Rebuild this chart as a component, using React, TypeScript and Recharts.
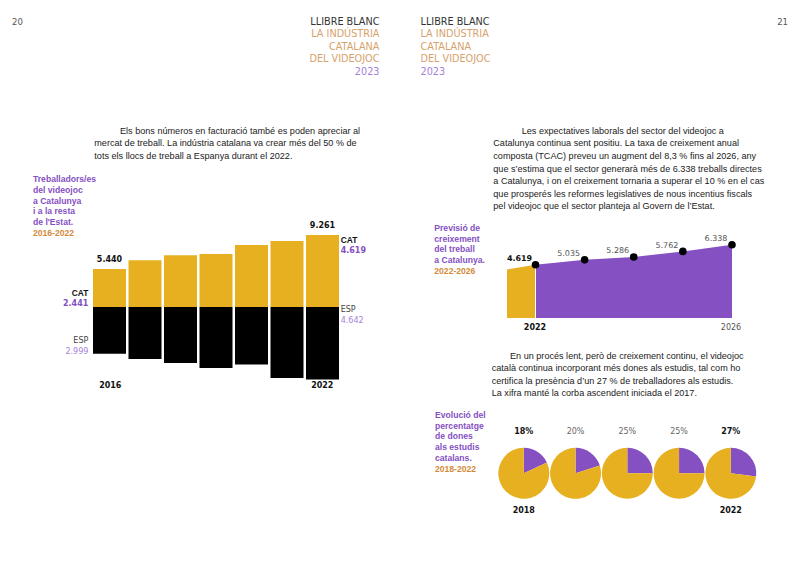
import React from "react";
import {
  BarChart,
  Bar,
  XAxis,
  YAxis,
  AreaChart,
  Area,
  LabelList,
  ReferenceLine,
  PieChart,
  Pie,
  Cell,
} from "recharts";

// workers, Catalonia vs rest of Spain
const years = ["2016", "2017", "2018", "2019", "2020", "2021", "2022"];
const catWorkers = [2441, 2990, 3310, 3390, 3970, 4230, 4619];
const espWorkers = [2999, 3330, 3590, 3910, 3690, 4550, 4642];

// forecast 2022-2026 (first point = left edge of the yellow block)
const forecastX = [2021.42, 2022, 2023, 2024, 2025, 2026];
const pastValues = [4210, 4619, null, null, null, null];
const forecastValues = [null, 4619, 5035, 5286, 5762, 6338];

// women in catalan studios
const pieYears = ["2018", "2019", "2020", "2021", "2022"];
const womenPct = [18, 20, 25, 25, 27];

const YELLOW = "#E7B020";
const PURPLE = "#8550C2";
const LIGHT_PURPLE = "#A57FDB";
const ORANGE = "#D38B3B";
const TAN = "#D6A26C";

const SANS = "'Liberation Sans', Arial, sans-serif";
const NUM = "'DejaVu Sans', sans-serif";

const fmt = (n: number) => n.toString().replace(/\B(?=(\d{3})+(?!\d))/g, ".");

const barData = years.map((y, i) => ({
  year: y,
  cat: catWorkers[i],
  esp: -espWorkers[i],
  total: catWorkers[i] + espWorkers[i],
}));

const areaData = forecastX.map((x, i) => ({
  x,
  past: pastValues[i],
  proj: forecastValues[i],
}));

type TProps = {
  x: number;
  y: number;
  align?: "left" | "right" | "center";
  size?: number;
  color?: string;
  weight?: number | string;
  font?: string;
  children: React.ReactNode;
};

function T({ x, y, align = "left", size = 9.1, color = "#222", weight = 400, font = SANS, children }: TProps) {
  const lh = 14;
  const style: React.CSSProperties = {
    position: "absolute",
    top: y - lh / 2,
    lineHeight: lh + "px",
    fontSize: size,
    color,
    fontWeight: weight,
    fontFamily: font,
    whiteSpace: "nowrap",
  };
  if (align === "left") style.left = x;
  if (align === "right") style.right = 800 - x;
  if (align === "center") {
    style.left = x - 60;
    style.width = 120;
    style.textAlign = "center";
  }
  return <div style={style}>{children}</div>;
}

const leftPara = [
  "Els bons números en facturació també es poden apreciar al",
  "mercat de treball. La indústria catalana va crear més del 50 % de",
  "tots els llocs de treball a Espanya durant el 2022.",
];
const rightPara1 = [
  "Les expectatives laborals del sector del videojoc a",
  "Catalunya continua sent positiu. La taxa de creixement anual",
  "composta (TCAC) preveu un augment del 8,3 % fins al 2026, any",
  "que s’estima que el sector generarà més de 6.338 treballs directes",
  "a Catalunya, i on el creixement tornaria a superar el 10 % en el cas",
  "que prosperés les reformes legislatives de nous incentius fiscals",
  "pel videojoc que el sector planteja al Govern de l’Estat.",
];
const rightPara2 = [
  "En un procés lent, però de creixement continu, el videojoc",
  "català continua incorporant més dones als estudis, tal com ho",
  "certifica la presència d’un 27 % de treballadores als estudis.",
  "La xifra manté la corba ascendent iniciada el 2017.",
];

function Header({ x, align }: { x: number; align: "left" | "right" }) {
  const lines = [
    ["LLIBRE BLANC", "#333"],
    ["LA INDÚSTRIA", TAN],
    ["CATALANA", TAN],
    ["DEL VIDEOJOC", TAN],
    ["2023", LIGHT_PURPLE],
  ];
  return (
    <>
      {lines.map(([t, c], i) => (
        <T key={t} x={x} y={21.7 + i * 12.5} align={align} size={9.7} color={c} font={NUM}>
          {t}
        </T>
      ))}
    </>
  );
}

function Title({ x, y, lines, years: yr }: { x: number; y: number; lines: string[]; years: string }) {
  return (
    <>
      {lines.map((t, i) => (
        <T key={t} x={x} y={y + i * 10.7} size={8.6} weight={700} color={PURPLE}>
          {t}
        </T>
      ))}
      <T x={x} y={y + lines.length * 10.7} size={8.6} weight={700} color={ORANGE}>
        {yr}
      </T>
    </>
  );
}

const totalLabel = (props: any) => {
  const { x, y, width, index } = props;
  if (index !== 0 && index !== years.length - 1) return null;
  return (
    <text
      x={x + width / 2}
      y={y - 9}
      textAnchor="middle"
      dominantBaseline="central"
      fontFamily={NUM}
      fontSize={8}
      fontWeight={700}
      fill="#111"
    >
      {fmt(barData[index].total)}
    </text>
  );
};

const forecastLabel = (props: any) => {
  const { x, y, value, index } = props;
  if (value == null) return null;
  const first = index === 1;
  return (
    <text
      x={x - 16}
      y={y - 6}
      textAnchor="middle"
      dominantBaseline="central"
      fontFamily={NUM}
      fontSize={8}
      fontWeight={first ? 700 : 400}
      fill={first ? "#111" : "#555"}
    >
      {fmt(value)}
    </text>
  );
};

export default function App() {
  const last = years.length - 1;
  return (
    <div
      style={{
        position: "absolute",
        left: 0,
        top: 0,
        width: 800,
        height: 567,
        background: "#fff",
        overflow: "hidden",
        fontFamily: SANS,
      }}
    >
      <T x={12} y={21.5} size={8.5} color="#555" font={NUM}>
        20
      </T>
      <T x={788} y={21.5} align="right" size={8.5} color="#555" font={NUM}>
        21
      </T>
      <Header x={379.5} align="right" />
      <Header x={420.5} align="left" />

      {leftPara.map((t, i) => (
        <T key={i} x={i === 0 ? 120 : 94.3} y={130.7 + i * 12.5}>
          {t}
        </T>
      ))}
      {rightPara1.map((t, i) => (
        <T key={i} x={i === 0 ? 521.7 : 493.3} y={130.7 + i * 12.6}>
          {t}
        </T>
      ))}
      {rightPara2.map((t, i) => (
        <T key={i} x={i === 0 ? 510 : 491.7} y={355.7 + i * 12.55}>
          {t}
        </T>
      ))}

      {/* workers bar chart */}
      <Title
        x={33}
        y={179.3}
        lines={["Treballadors/es", "del videojoc", "a Catalunya", "i a la resta", "de l'Estat."]}
        years="2016-2022"
      />
      <div style={{ position: "absolute", left: 92, top: 208.7 }}>
        <BarChart
          width={248.5}
          height={176}
          data={barData}
          stackOffset="sign"
          margin={{ top: 20, right: 0, bottom: 0, left: 0 }}
          barSize={33}
          barCategoryGap={0}
        >
          <XAxis dataKey="year" hide />
          <YAxis hide domain={[-5000, 5000]} />
          <Bar dataKey="cat" stackId="a" fill={YELLOW} isAnimationActive={false}>
            <LabelList dataKey="cat" content={totalLabel} />
          </Bar>
          <Bar dataKey="esp" stackId="a" fill="#000" isAnimationActive={false} />
        </BarChart>
      </div>
      <T x={88.3} y={293.3} align="right" size={8.4} weight={700} color="#111">
        CAT
      </T>
      <T x={88.3} y={304} align="right" size={8} weight={700} color={PURPLE} font={NUM}>
        {fmt(catWorkers[0])}
      </T>
      <T x={88.3} y={341} align="right" size={8} color="#444" font={NUM}>
        ESP
      </T>
      <T x={88.3} y={351.5} align="right" size={8} color={LIGHT_PURPLE} font={NUM}>
        {fmt(espWorkers[0])}
      </T>
      <T x={340.7} y={240} size={8.4} weight={700} color="#111">
        CAT
      </T>
      <T x={340.7} y={251} size={8} weight={700} color={PURPLE} font={NUM}>
        {fmt(catWorkers[last])}
      </T>
      <T x={340.7} y={310} size={8} color="#444" font={NUM}>
        ESP
      </T>
      <T x={340.7} y={320.5} size={8} color={LIGHT_PURPLE} font={NUM}>
        {fmt(espWorkers[last])}
      </T>
      <T x={110.3} y={386} align="center" size={8} weight={700} color="#111" font={NUM}>
        {years[0]}
      </T>
      <T x={322.3} y={386} align="center" size={8} weight={700} color="#111" font={NUM}>
        {years[last]}
      </T>

      {/* forecast area chart */}
      <Title
        x={434.3}
        y={228}
        lines={["Previsió de", "creixement", "del treball", "a Catalunya."]}
        years="2022-2026"
      />
      <div style={{ position: "absolute", left: 506.7, top: 216.9 }}>
        <AreaChart
          width={235}
          height={101.4}
          data={areaData}
          margin={{ top: 20, right: 10, bottom: 0, left: 0 }}
        >
          <XAxis dataKey="x" type="number" domain={[forecastX[0], 2026]} hide />
          <YAxis hide domain={[0, 7000]} />
          <Area
            type="linear"
            dataKey="past"
            stroke="none"
            fill={YELLOW}
            fillOpacity={1}
            dot={false}
            activeDot={false}
            isAnimationActive={false}
          />
          <Area
            type="linear"
            dataKey="proj"
            stroke="none"
            fill={PURPLE}
            fillOpacity={1}
            dot={{ r: 3.8, fill: "#000", stroke: "none" }}
            activeDot={false}
            isAnimationActive={false}
          >
            <LabelList dataKey="proj" content={forecastLabel} />
          </Area>
          <ReferenceLine
            segment={[
              { x: 2022, y: 0 },
              { x: 2022, y: forecastValues[1] as number },
            ]}
            stroke="#fff"
            strokeWidth={1}
          />
        </AreaChart>
      </div>
      <T x={535} y={327.7} align="center" size={8} weight={700} color="#111" font={NUM}>
        2022
      </T>
      <T x={731} y={327.7} align="center" size={8} color="#555" font={NUM}>
        2026
      </T>

      {/* women pies */}
      <Title
        x={435}
        y={415}
        lines={["Evolució del", "percentatge", "de dones", "als estudis", "catalans."]}
        years="2018-2022"
      />
      <div style={{ position: "absolute", left: 490, top: 440 }}>
        <PieChart width={280} height={70} margin={{ top: 0, right: 0, bottom: 0, left: 0 }}>
          {womenPct.map((p, i) => (
            <Pie
              key={i}
              data={[
                { name: "dones", v: p },
                { name: "homes", v: 100 - p },
              ]}
              dataKey="v"
              nameKey="name"
              cx={33.8 + i * 51.75}
              cy={33.3}
              outerRadius={25.5}
              startAngle={90}
              endAngle={-270}
              stroke="none"
              isAnimationActive={false}
            >
              <Cell fill={PURPLE} />
              <Cell fill={YELLOW} />
            </Pie>
          ))}
        </PieChart>
      </div>
      {womenPct.map((p, i) => {
        const edge = i === 0 || i === womenPct.length - 1;
        return (
          <T
            key={i}
            x={523.8 + i * 51.75}
            y={432.3}
            align="center"
            size={8}
            weight={edge ? 700 : 400}
            color={edge ? "#111" : "#666"}
            font={NUM}
          >
            {p}%
          </T>
        );
      })}
      <T x={523.8} y={511} align="center" size={8} weight={700} color="#111" font={NUM}>
        {pieYears[0]}
      </T>
      <T x={730.8} y={511} align="center" size={8} weight={700} color="#111" font={NUM}>
        {pieYears[pieYears.length - 1]}
      </T>
    </div>
  );
}
